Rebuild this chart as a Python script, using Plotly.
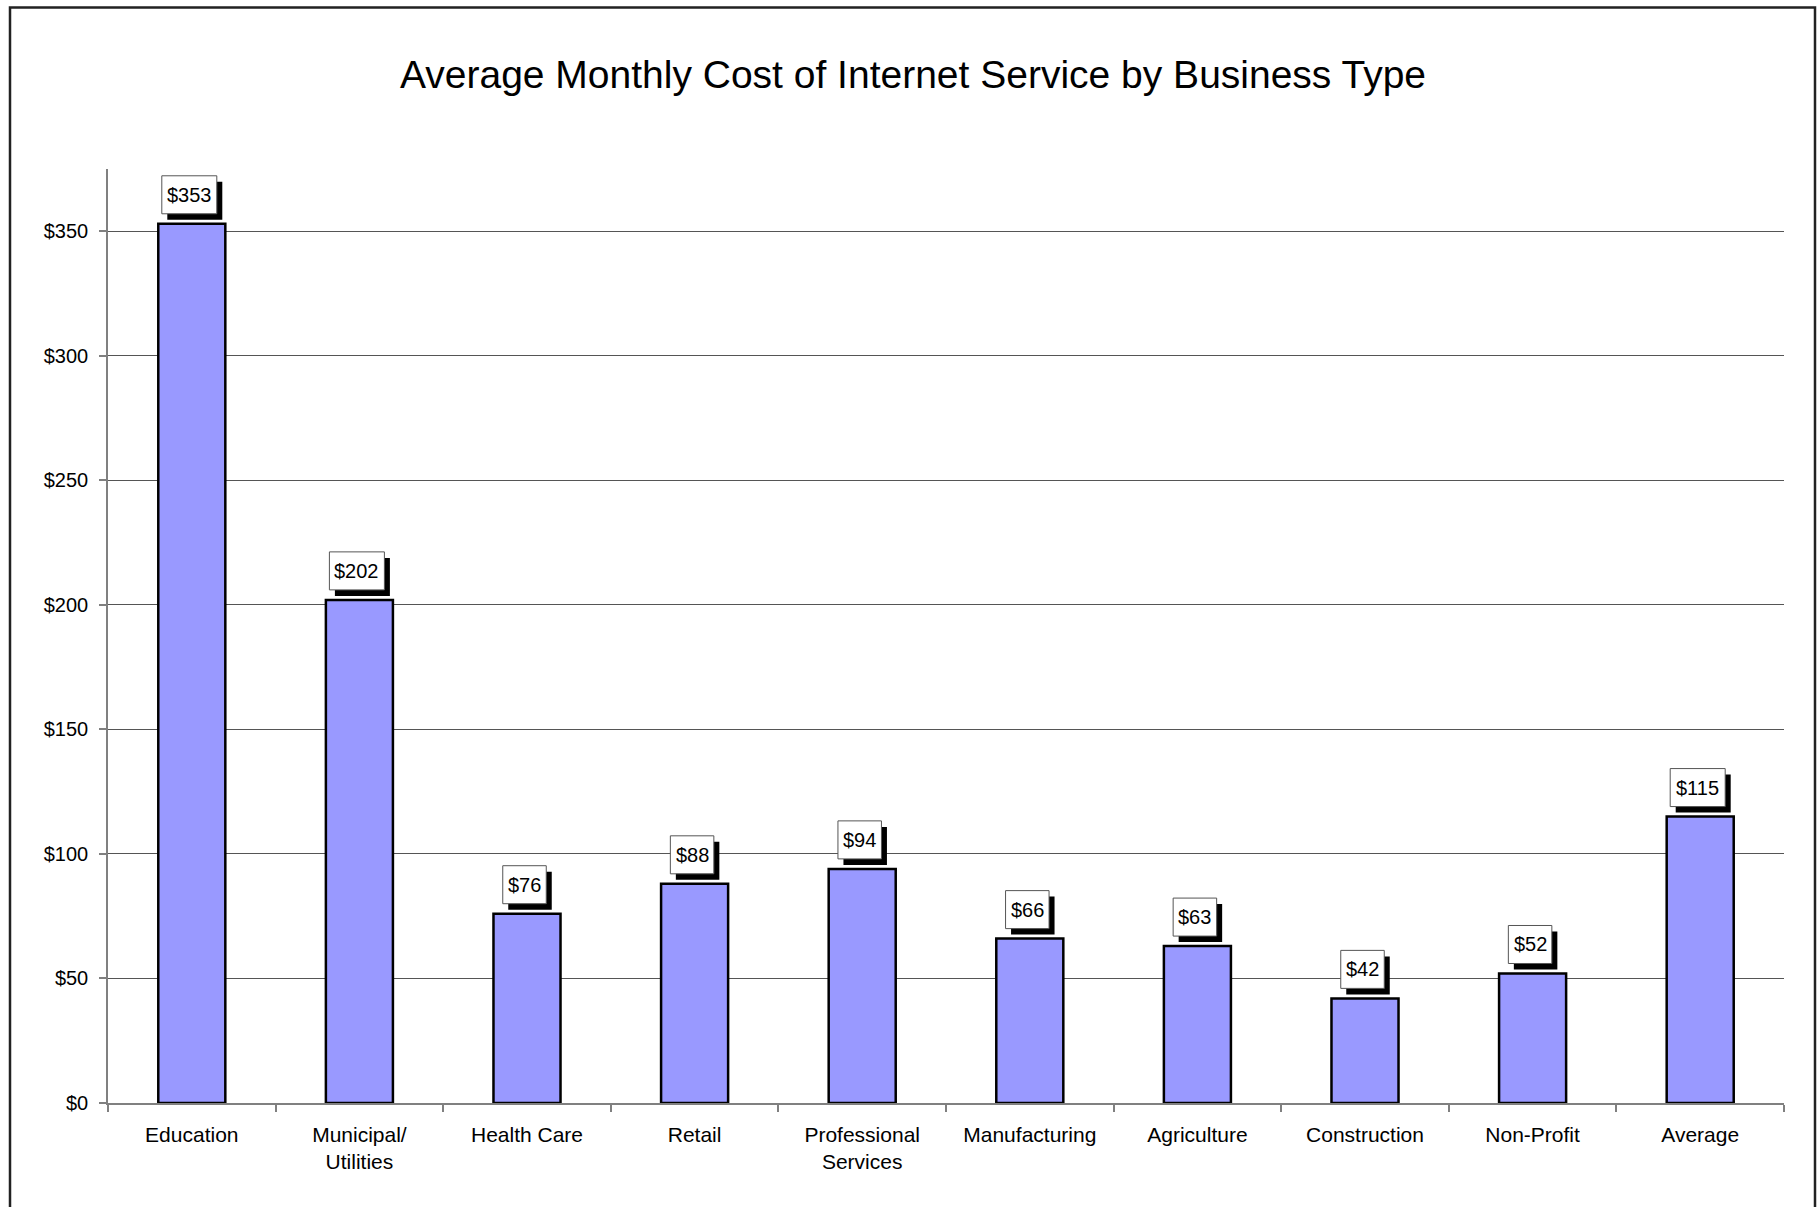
import plotly.graph_objects as go

categories = ["Education", "Municipal/<br>Utilities", "Health Care", "Retail",
              "Professional<br>Services", "Manufacturing", "Agriculture",
              "Construction", "Non-Profit", "Average"]
values = [353, 202, 76, 88, 94, 66, 63, 42, 52, 115]
y_ticks = [0, 50, 100, 150, 200, 250, 300, 350]
y_tick_labels = ["$" + str(v) for v in y_ticks]
labels = ["$" + str(v) for v in values]

W, H = 1820, 1207
L, R, T, B = 108, 1784, 169, 1103
FONT = "Liberation Sans, Arial, sans-serif"

fig = go.Figure()
fig.add_trace(go.Bar(
    x=categories, y=values,
    marker=dict(color="#9999FF", line=dict(color="black", width=2.5)),
    width=0.4, hoverinfo="skip",
))

shapes = []
annotations = []
for c, v, t in zip(categories, values, labels):
    bw = 11.5 * len(t) + 9
    bh = 38
    cx = -2.5
    # shadow
    shapes.append(dict(type="rect", xref="x", yref="y", xsizemode="pixel", ysizemode="pixel",
                       xanchor=c, yanchor=v,
                       x0=cx - bw / 2 + 5.5, x1=cx + bw / 2 + 5.5, y0=10 - 6, y1=10 + bh - 6,
                       fillcolor="black", line=dict(width=0), layer="above"))
    shapes.append(dict(type="rect", xref="x", yref="y", xsizemode="pixel", ysizemode="pixel",
                       xanchor=c, yanchor=v,
                       x0=cx - bw / 2, x1=cx + bw / 2, y0=10, y1=10 + bh,
                       fillcolor="white", line=dict(color="#555555", width=1), layer="above"))
    annotations.append(dict(x=c, y=v, xref="x", yref="y", text=t, showarrow=False,
                            yanchor="middle", xanchor="center",
                            xshift=cx, yshift=10 + bh / 2,
                            font=dict(family=FONT, size=20, color="black")))

pw, ph = R - L, B - T
shapes.append(dict(type="rect", xref="paper", yref="paper",
                   x0=(10 - L) / pw, x1=(1815 - L) / pw,
                   y0=(B - 1230) / ph, y1=(B - 7.5) / ph,
                   line=dict(color="#222222", width=2.5), fillcolor="rgba(0,0,0,0)",
                   layer="below"))

fig.update_layout(
    width=W, height=H,
    margin=dict(l=L, r=W - R, t=T, b=H - B, pad=0),
    paper_bgcolor="white", plot_bgcolor="white",
    showlegend=False,
    bargap=0.6,
    title=dict(text="Average Monthly Cost of Internet Service by Business Type",
               x=913 / W, xref="container", xanchor="center",
               y=1 - 74 / H, yref="container", yanchor="middle",
               font=dict(family=FONT, size=39, color="black")),
    font=dict(family=FONT, size=21, color="black"),
    xaxis=dict(type="category", showgrid=False, showline=True, linecolor="#808080",
               linewidth=1.5, ticks="outside", tickson="boundaries", ticklen=7,
               tickcolor="#808080", tickwidth=1.5, tickfont=dict(size=21, color="black"),
               ticklabelstandoff=12, fixedrange=True),
    yaxis=dict(range=[0, 375], tickvals=y_ticks, ticktext=y_tick_labels,
               showgrid=True, gridcolor="#555555", gridwidth=1,
               showline=True, linecolor="#808080", linewidth=1.5,
               ticks="outside", ticklen=7, tickcolor="#808080", tickwidth=1.5,
               tickfont=dict(size=20, color="black"), ticklabelstandoff=7,
               zeroline=False, fixedrange=True),
    annotations=annotations,
    shapes=shapes,
)

fig.write_html(
    "out.html",
    config={"displayModeBar": False},
    post_script="document.body.style.margin='0';document.body.style.overflow='hidden';"
                "document.documentElement.style.overflow='hidden';",
)
